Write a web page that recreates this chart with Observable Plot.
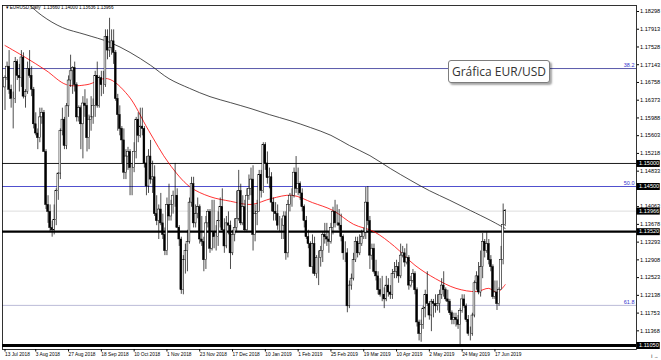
<!DOCTYPE html>
<html><head><meta charset="utf-8">
<script src="https://cdn.jsdelivr.net/npm/d3@7"></script>
<script src="https://cdn.jsdelivr.net/npm/@observablehq/plot@0.6"></script>
<style>
body{margin:0;background:#fff;}
#wrap{position:relative;width:661px;height:360px;overflow:hidden;}
#note{position:absolute;left:448px;top:60px;width:102px;height:23px;box-sizing:border-box;border:1px solid #7d7d7d;border-radius:3px;background:#fff;box-shadow:2px 2px 2px rgba(0,0,0,0.35);font:12px "Open Sans",sans-serif;color:#333;display:flex;align-items:center;justify-content:center;}
</style></head><body>
<div id="wrap"></div>
<script>
// EUR/USD daily bars, 13 Jul 2018 .. 24 Jun 2019 (bar index = position)
const open = [1.1665,1.1685,1.1710,1.1660,1.1640,1.1640,1.1720,1.1690,1.1685,1.1730,
1.1645,1.1655,1.1705,1.1690,1.1660,1.1585,1.1565,1.1555,1.1600,1.1610,
1.1525,1.1410,1.1395,1.1360,1.1355,1.1377,1.1440,1.1478,1.1570,1.1595,
1.1538,1.1624,1.1680,1.1700,1.1707,1.1670,1.1600,1.1620,1.1585,1.1630,
1.1625,1.1555,1.1595,1.1600,1.1625,1.1690,1.1625,1.1685,1.1670,1.1670,
1.1775,1.1745,1.1750,1.1765,1.1740,1.1640,1.1605,1.1575,1.1550,1.1480,
1.1515,1.1525,1.1490,1.1490,1.1525,1.1595,1.1560,1.1580,1.1575,1.1500,
1.1450,1.1515,1.1465,1.1470,1.1390,1.1375,1.1400,1.1370,1.1345,1.1310,
1.1410,1.1385,1.1410,1.1430,1.1430,1.1360,1.1335,1.1225,1.1290,1.1310,
1.1330,1.1415,1.1455,1.1370,1.1390,1.1405,1.1335,1.1330,1.1290,1.1370,
1.1395,1.1315,1.1350,1.1340,1.1340,1.1375,1.1405,1.1355,1.1320,1.1370,
1.1365,1.1305,1.1345,1.1360,1.1380,1.1440,1.1370,1.1405,1.1355,1.1430,
1.1445,1.1465,1.1345,1.1390,1.1395,1.1475,1.1440,1.1540,1.1500,1.1468,
1.1470,1.1415,1.1395,1.1390,1.1365,1.1365,1.1365,1.1385,1.1305,1.1410,
1.1430,1.1430,1.1480,1.1445,1.1455,1.1435,1.1405,1.1375,1.1340,1.1325,
1.1275,1.1325,1.1260,1.1295,1.1295,1.1310,1.1345,1.1340,1.1335,1.1330,
1.1360,1.1395,1.1370,1.1370,1.1365,1.1340,1.1305,1.1305,1.1190,1.1235,
1.1250,1.1290,1.1330,1.1305,1.1325,1.1340,1.1350,1.1415,1.1375,1.1300,
1.1315,1.1265,1.1255,1.1225,1.1215,1.1215,1.1205,1.1235,1.1220,1.1215,
1.1260,1.1265,1.1275,1.1255,1.1300,1.1305,1.1285,1.1295,1.1235,1.1245,
1.1260,1.1225,1.1155,1.1130,1.1150,1.1185,1.1215,1.1195,1.1170,1.1200,
1.1195,1.1190,1.1195,1.1215,1.1235,1.1225,1.1205,1.1200,1.1175,1.1160,
1.1165,1.1160,1.1150,1.1180,1.1205,1.1190,1.1160,1.1130,1.1130,1.1170,
1.1240,1.1255,1.1220,1.1275,1.1330,1.1310,1.1325,1.1290,1.1275,1.1210,
1.1220,1.1195,1.1225,1.1290,1.1366];
const high = [1.1690,1.1720,1.1745,1.1670,1.1655,1.1730,1.1725,1.1715,1.1745,1.1740,
1.1660,1.1720,1.1745,1.1710,1.1665,1.1610,1.1575,1.1620,1.1620,1.1615,
1.1530,1.1430,1.1410,1.1375,1.1410,1.1445,1.1480,1.1575,1.1620,1.1600,
1.1630,1.1690,1.1735,1.1710,1.1720,1.1675,1.1625,1.1625,1.1645,1.1660,
1.1640,1.1605,1.1645,1.1640,1.1700,1.1720,1.1690,1.1700,1.1700,1.1790,
1.1790,1.1815,1.1790,1.1790,1.1745,1.1650,1.1625,1.1580,1.1575,1.1530,
1.1535,1.1530,1.1500,1.1545,1.1600,1.1610,1.1620,1.1620,1.1580,1.1515,
1.1530,1.1550,1.1505,1.1495,1.1430,1.1410,1.1435,1.1390,1.1360,1.1425,
1.1455,1.1420,1.1440,1.1500,1.1445,1.1365,1.1340,1.1300,1.1325,1.1355,
1.1425,1.1470,1.1470,1.1410,1.1425,1.1410,1.1385,1.1340,1.1385,1.1400,
1.1400,1.1420,1.1420,1.1365,1.1395,1.1425,1.1445,1.1380,1.1385,1.1395,
1.1375,1.1355,1.1380,1.1440,1.1485,1.1455,1.1430,1.1420,1.1445,1.1475,
1.1490,1.1495,1.1410,1.1420,1.1485,1.1485,1.1545,1.1545,1.1525,1.1490,
1.1480,1.1425,1.1415,1.1410,1.1385,1.1380,1.1395,1.1395,1.1420,1.1435,
1.1445,1.1490,1.1515,1.1490,1.1460,1.1445,1.1410,1.1385,1.1355,1.1330,
1.1345,1.1340,1.1300,1.1310,1.1320,1.1350,1.1370,1.1370,1.1350,1.1370,
1.1405,1.1420,1.1410,1.1400,1.1390,1.1345,1.1330,1.1315,1.1245,1.1260,
1.1305,1.1340,1.1340,1.1345,1.1355,1.1360,1.1448,1.1450,1.1385,1.1325,
1.1325,1.1290,1.1265,1.1250,1.1255,1.1230,1.1255,1.1250,1.1235,1.1270,
1.1285,1.1290,1.1285,1.1325,1.1320,1.1315,1.1325,1.1300,1.1255,1.1270,
1.1265,1.1230,1.1160,1.1160,1.1190,1.1225,1.1265,1.1200,1.1205,1.1205,
1.1215,1.1215,1.1225,1.1250,1.1265,1.1230,1.1225,1.1205,1.1180,1.1175,
1.1175,1.1170,1.1185,1.1215,1.1215,1.1195,1.1170,1.1145,1.1175,1.1245,
1.1265,1.1285,1.1310,1.1348,1.1335,1.1350,1.1335,1.1300,1.1280,1.1245,
1.1245,1.1230,1.1320,1.1412,1.1400];
const low = [1.1615,1.1680,1.1650,1.1620,1.1575,1.1630,1.1680,1.1655,1.1665,1.1640,
1.1620,1.1650,1.1685,1.1645,1.1575,1.1560,1.1530,1.1545,1.1585,1.1525,
1.1400,1.1370,1.1350,1.1340,1.1345,1.1365,1.1420,1.1465,1.1560,1.1530,
1.1530,1.1600,1.1665,1.1650,1.1655,1.1590,1.1590,1.1530,1.1510,1.1600,
1.1525,1.1530,1.1570,1.1585,1.1600,1.1620,1.1620,1.1645,1.1650,1.1665,
1.1725,1.1730,1.1735,1.1715,1.1635,1.1570,1.1560,1.1500,1.1465,1.1465,
1.1485,1.1430,1.1430,1.1480,1.1510,1.1545,1.1555,1.1560,1.1490,1.1430,
1.1435,1.1455,1.1435,1.1385,1.1365,1.1335,1.1365,1.1335,1.1300,1.1300,
1.1375,1.1375,1.1390,1.1405,1.1360,1.1320,1.1216,1.1215,1.1260,1.1265,
1.1325,1.1405,1.1360,1.1360,1.1380,1.1325,1.1320,1.1265,1.1270,1.1360,
1.1305,1.1310,1.1315,1.1310,1.1320,1.1360,1.1350,1.1305,1.1315,1.1345,
1.1270,1.1300,1.1330,1.1350,1.1375,1.1365,1.1365,1.1350,1.1350,1.1420,
1.1430,1.1310,1.1330,1.1365,1.1395,1.1425,1.1435,1.1485,1.1455,1.1445,
1.1395,1.1375,1.1375,1.1355,1.1350,1.1335,1.1335,1.1290,1.1295,1.1395,
1.1405,1.1425,1.1435,1.1430,1.1420,1.1395,1.1360,1.1335,1.1315,1.1275,
1.1260,1.1255,1.1250,1.1235,1.1275,1.1285,1.1325,1.1320,1.1305,1.1325,
1.1345,1.1360,1.1365,1.1355,1.1330,1.1290,1.1285,1.1176,1.1185,1.1225,
1.1245,1.1285,1.1295,1.1300,1.1320,1.1335,1.1335,1.1365,1.1270,1.1290,
1.1260,1.1245,1.1215,1.1210,1.1200,1.1185,1.1200,1.1210,1.1205,1.1205,
1.1250,1.1250,1.1240,1.1250,1.1295,1.1275,1.1280,1.1225,1.1230,1.1240,
1.1215,1.1145,1.1115,1.1112,1.1140,1.1165,1.1190,1.1160,1.1135,1.1165,
1.1175,1.1180,1.1175,1.1205,1.1210,1.1200,1.1180,1.1170,1.1150,1.1150,
1.1145,1.1140,1.1107,1.1175,1.1185,1.1155,1.1125,1.1115,1.1125,1.1165,
1.1225,1.1215,1.1210,1.1250,1.1295,1.1305,1.1280,1.1265,1.1205,1.1205,
1.1181,1.1190,1.1225,1.1280,1.1363];
const close = [1.1685,1.1710,1.1660,1.1640,1.1640,1.1720,1.1690,1.1685,1.1730,1.1645,
1.1655,1.1705,1.1690,1.1660,1.1585,1.1565,1.1555,1.1600,1.1610,1.1525,
1.1410,1.1395,1.1360,1.1355,1.1377,1.1440,1.1478,1.1570,1.1595,1.1538,
1.1624,1.1680,1.1700,1.1707,1.1670,1.1600,1.1620,1.1585,1.1630,1.1625,
1.1555,1.1595,1.1600,1.1625,1.1690,1.1625,1.1685,1.1670,1.1670,1.1775,
1.1745,1.1750,1.1765,1.1740,1.1640,1.1605,1.1575,1.1550,1.1480,1.1515,
1.1525,1.1490,1.1490,1.1525,1.1595,1.1560,1.1580,1.1575,1.1500,1.1450,
1.1515,1.1465,1.1470,1.1390,1.1375,1.1400,1.1370,1.1345,1.1310,1.1410,
1.1385,1.1410,1.1430,1.1430,1.1360,1.1335,1.1225,1.1290,1.1310,1.1330,
1.1415,1.1455,1.1370,1.1390,1.1405,1.1335,1.1330,1.1290,1.1370,1.1395,
1.1315,1.1350,1.1340,1.1340,1.1375,1.1405,1.1355,1.1320,1.1370,1.1365,
1.1305,1.1345,1.1360,1.1380,1.1440,1.1370,1.1405,1.1355,1.1430,1.1445,
1.1465,1.1345,1.1390,1.1395,1.1475,1.1440,1.1540,1.1500,1.1468,1.1470,
1.1415,1.1395,1.1390,1.1365,1.1365,1.1365,1.1385,1.1305,1.1410,1.1430,
1.1430,1.1480,1.1445,1.1455,1.1435,1.1405,1.1375,1.1340,1.1325,1.1275,
1.1325,1.1260,1.1295,1.1295,1.1310,1.1345,1.1340,1.1335,1.1330,1.1360,
1.1395,1.1370,1.1370,1.1365,1.1340,1.1305,1.1305,1.1190,1.1235,1.1250,
1.1290,1.1330,1.1305,1.1325,1.1340,1.1350,1.1415,1.1375,1.1300,1.1315,
1.1265,1.1255,1.1225,1.1215,1.1215,1.1205,1.1235,1.1220,1.1215,1.1260,
1.1265,1.1275,1.1255,1.1300,1.1305,1.1285,1.1295,1.1235,1.1245,1.1260,
1.1225,1.1155,1.1130,1.1150,1.1185,1.1215,1.1195,1.1170,1.1200,1.1195,
1.1190,1.1195,1.1215,1.1235,1.1225,1.1205,1.1200,1.1175,1.1160,1.1165,
1.1160,1.1150,1.1180,1.1205,1.1190,1.1160,1.1130,1.1130,1.1170,1.1240,
1.1255,1.1220,1.1275,1.1330,1.1310,1.1325,1.1290,1.1275,1.1210,1.1220,
1.1195,1.1225,1.1290,1.1366,1.13966];

// moving averages (bar index, price)
const redIdx = [0,10,20,30,40,50,60,70,80,90,100,110,120,130,140,150,160,170,180,190,200,210,220,230,236,240,244];
const redVal = [1.1756,1.1730,1.1702,1.1671,1.1671,1.1684,1.1648,1.1572,1.1500,1.1450,1.1428,1.1418,1.1411,1.1424,1.1431,1.1415,1.1398,1.1368,1.1352,1.1320,1.1279,1.1250,1.1229,1.1222,1.1229,1.1220,1.1237];
const blackIdx = [8,18,28,39,51,61,71,80,90,100,110,120,129,139,149,159,168,178,188,198,207,217,227,237,244];
const blackVal = [1.1860,1.1821,1.1795,1.1780,1.1763,1.1741,1.1713,1.1684,1.1663,1.1645,1.1632,1.1619,1.1606,1.1593,1.1578,1.1561,1.1539,1.1517,1.1489,1.1463,1.1441,1.1420,1.1398,1.1376,1.1359];

// horizontal levels
const thinLevels = [1.15000];
const supportLevel = [1.13520];
const bottomLevel = [1.11050];
const fibLabels = ["38.2","50.0","61.8"];
const fibPrices = [1.17060,1.14500,1.11920];
const fibColors = ["#4646a0","#3c3cc8","#b4b4d2"];
const bidPrice = [1.13966];
const markedPrices = [1.15000,1.14500,1.13966,1.13520,1.11050];

// axis labels
const yTicks = [1.18298,1.17913,1.17528,1.17143,1.16758,1.16373,1.15988,1.15603,1.15218,1.14833,1.14063,1.13678,1.13293,1.12908,1.12523,1.12138,1.11753,1.11368];
const dateIdx = [0,15,31,47,63,79,95,111,127,143,159,175,191,207,223,239];
const dateText = ["13 Jul 2018","3 Aug 2018","27 Aug 2018","18 Sep 2018","10 Oct 2018","1 Nov 2018","23 Nov 2018","17 Dec 2018","10 Jan 2019","1 Feb 2019","25 Feb 2019","19 Mar 2019","10 Apr 2019","2 May 2019","24 May 2019","17 Jun 2019"];
const header = "\u25BE EURUSD,Daily  1.13660 1.14000 1.13636 1.13966";
const noteText = "Gráfica EUR/USD";

const bars = open.map((o, i) => ({i, o, h: high[i], l: low[i], c: close[i]}));
const red = redIdx.map((i, k) => ({i, v: redVal[k]}));
const blk = blackIdx.map((i, k) => ({i, v: blackVal[k]}));
const fib = fibPrices.map((p, k) => ({p, label: fibLabels[k], color: fibColors[k]}));
const dateMap = new Map(dateIdx.map((d, k) => [d, dateText[k]]));
const xDom = [-1.22, 308.05];
const yDom = [1.10963, 1.18428];

const chart = Plot.plot({
  width: 661, height: 360,
  marginTop: 5, marginBottom: 11, marginLeft: 2, marginRight: 25,
  x: {domain: xDom},
  y: {domain: yDom},
  style: {fontFamily: "'Liberation Sans', Arial, sans-serif", background: "white", color: "black"},
  marks: [
    Plot.ruleY(fib, {y: "p", stroke: "color", strokeWidth: 0.9}),
    Plot.ruleY(bidPrice, {stroke: "#c8c8c8", strokeWidth: 0.6}),
    Plot.ruleY(thinLevels, {stroke: "#000", strokeWidth: 0.9}),
    Plot.ruleY(supportLevel, {stroke: "#000", strokeWidth: 2.2}),
    Plot.ruleY(bottomLevel, {stroke: "#000", strokeWidth: 3}),
    Plot.line(blk, {x: "i", y: "v", stroke: "#222", strokeWidth: 0.8, curve: "catmull-rom", clip: true}),
    Plot.line(red, {x: "i", y: "v", stroke: "#ff0000", strokeWidth: 0.8, curve: "catmull-rom", clip: true}),
    Plot.ruleX(bars, {x: "i", y1: "l", y2: "h", stroke: "black", strokeWidth: 0.7}),
    Plot.rect(bars, {x1: d => d.i - 0.44, x2: d => d.i + 0.44, y1: "o", y2: "c",
      fill: d => d.c >= d.o ? "white" : "black", stroke: "black", strokeWidth: 0.5}),
    Plot.text(fib, {x: () => xDom[1], y: "p", text: "label", fill: "#3333cc", dx: -2, dy: -3, textAnchor: "end", fontSize: 5.5}),
    Plot.frame({stroke: "#000", strokeWidth: 0.8}),
    Plot.axisY({anchor: "right", ticks: yTicks, tickFormat: d => d.toFixed(5), tickSize: 2, tickPadding: 1.5, fontSize: 5.6}),
    Plot.axisX({ticks: dateIdx, tickFormat: d => dateMap.get(d), textAnchor: "start", tickSize: 2.5, tickPadding: 1, fontSize: 4.8}),
    Plot.ruleY(markedPrices, {x1: () => xDom[1] + 0.2, x2: () => xDom[1] + 11.6, stroke: "black", strokeWidth: 7}),
    Plot.text(markedPrices, {x: () => xDom[1], y: d => d, text: d => d.toFixed(5), dx: 2.5, textAnchor: "start", fill: "white", fontSize: 5.6}),
    Plot.text([header], {frameAnchor: "top-left", text: d => d, dx: 3, dy: 0.5, fontSize: 4.6, textAnchor: "start"})
  ]
});
const wrap = document.getElementById("wrap");
wrap.appendChild(chart);
const note = document.createElement("div");
note.id = "note";
note.textContent = noteText;
wrap.appendChild(note);
</script>
</body></html>
